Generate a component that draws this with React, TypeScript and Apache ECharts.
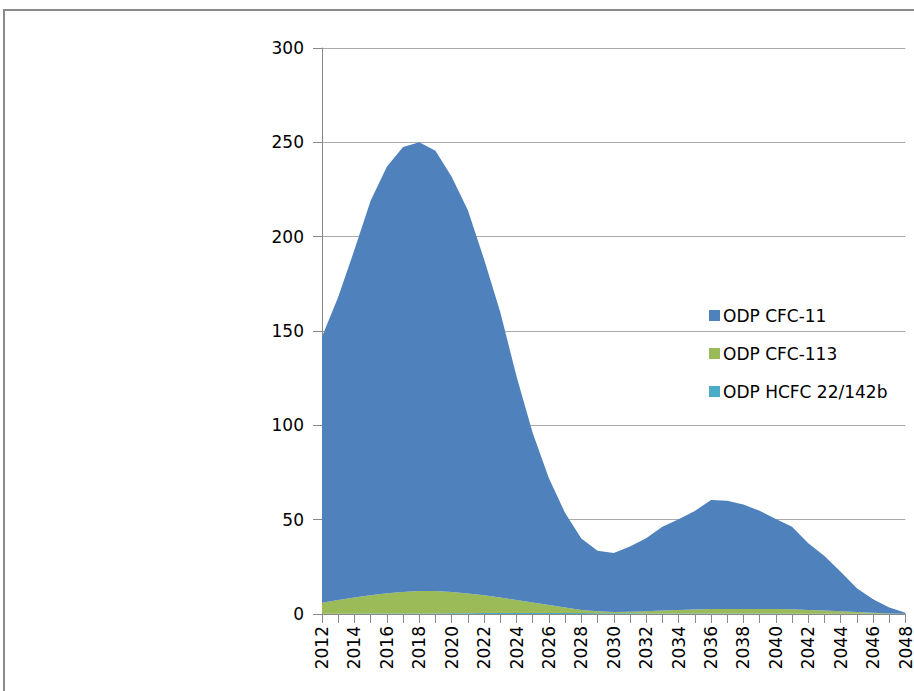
import React, { useEffect, useRef } from "react";
import * as echarts from "echarts";

const years: string[] = [
  "2012","2013","2014","2015","2016","2017","2018","2019","2020","2021",
  "2022","2023","2024","2025","2026","2027","2028","2029","2030","2031",
  "2032","2033","2034","2035","2036","2037","2038","2039","2040","2041",
  "2042","2043","2044","2045","2046","2047","2048",
];

const cfc11: number[] = [
  141.0, 160.6, 184.2, 209.0, 226.0, 235.8, 237.8, 233.3, 220.0, 203.1,
  178.1, 151.3, 118.6, 89.9, 67.2, 50.1, 37.9, 32.1, 31.3, 34.6,
  38.7, 44.5, 48.1, 52.2, 57.8, 57.3, 55.3, 52.1, 47.7, 43.8,
  35.4, 28.9, 21.0, 12.6, 7.2, 3.2, 0.6,
];

const cfc113: number[] = [
  5.9, 7.3, 8.7, 9.8, 10.8, 11.5, 11.9, 11.9, 11.3, 10.5,
  9.4, 8.2, 6.9, 5.6, 4.3, 2.9, 1.6, 1.0, 0.6, 0.8,
  1.2, 1.5, 1.8, 2.1, 2.4, 2.5, 2.5, 2.4, 2.4, 2.4,
  2.0, 1.7, 1.3, 0.9, 0.5, 0.3, 0.1,
];

const hcfc: number[] = [
  0.1, 0.1, 0.1, 0.2, 0.2, 0.2, 0.3, 0.3, 0.4, 0.4,
  0.5, 0.5, 0.5, 0.5, 0.5, 0.5, 0.5, 0.4, 0.4, 0.4,
  0.3, 0.3, 0.3, 0.3, 0.2, 0.2, 0.2, 0.2, 0.2, 0.1,
  0.1, 0.1, 0.1, 0.1, 0.1, 0, 0,
];

const seriesNames = ["ODP CFC-11", "ODP CFC-113", "ODP HCFC 22/142b"];
const colors = ["#4F81BD", "#9BBB59", "#4BACC6"];

export default function App() {
  const ref = useRef<HTMLDivElement>(null);

  useEffect(() => {
    if (!ref.current) return;
    const chart = echarts.init(ref.current, undefined, { renderer: "svg" });
    const font = "DejaVu Sans";
    const areaSeries = (name: string, data: number[], color: string) => ({
      name,
      type: "line",
      stack: "total",
      data,
      symbol: "none",
      showSymbol: false,
      lineStyle: { width: 0 },
      areaStyle: { color, opacity: 1 },
      itemStyle: { color },
      emphasis: { disabled: true },
    });
    chart.setOption({
      animation: false,
      backgroundColor: "#ffffff",
      textStyle: { fontFamily: font },
      graphic: [
        {
          type: "rect",
          shape: { x: 4, y: 10, width: 2000, height: 2000 },
          style: { fill: "none", stroke: "#8a8a8a", lineWidth: 2 },
          silent: true,
        },
      ],
      legend: {
        orient: "vertical",
        left: 704,
        top: 302,
        itemGap: 21,
        itemWidth: 11,
        itemHeight: 11,
        icon: "rect",
        data: seriesNames,
        textStyle: { fontFamily: font, fontSize: 17, color: "#000", padding: [0, 0, 0, -2] },
      },
      grid: { left: 322, right: 4, top: 48, bottom: 77 },
      xAxis: {
        type: "category",
        data: years,
        boundaryGap: false,
        axisLine: { lineStyle: { color: "#888888", width: 1 } },
        axisTick: { show: true, interval: 0, length: 9, lineStyle: { color: "#888888" } },
        axisLabel: {
          interval: 1,
          rotate: 90,
          margin: 12,
          fontFamily: font,
          fontSize: 17,
          color: "#000",
        },
        splitLine: { show: false },
      },
      yAxis: {
        type: "value",
        min: 0,
        max: 300,
        interval: 50,
        axisLine: { show: true, lineStyle: { color: "#888888", width: 1 } },
        axisTick: { show: true, length: 9, lineStyle: { color: "#888888" } },
        axisLabel: { margin: 18, fontFamily: font, fontSize: 17, color: "#000" },
        splitLine: { show: true, lineStyle: { color: "#aaaaaa", width: 1 } },
      },
      series: [
        areaSeries(seriesNames[2], hcfc, colors[2]),
        areaSeries(seriesNames[1], cfc113, colors[1]),
        areaSeries(seriesNames[0], cfc11, colors[0]),
      ],
    });
    return () => chart.dispose();
  }, []);

  return (
    <div
      ref={ref}
      style={{ position: "absolute", left: 0, top: 0, width: 914, height: 691 }}
    />
  );
}
